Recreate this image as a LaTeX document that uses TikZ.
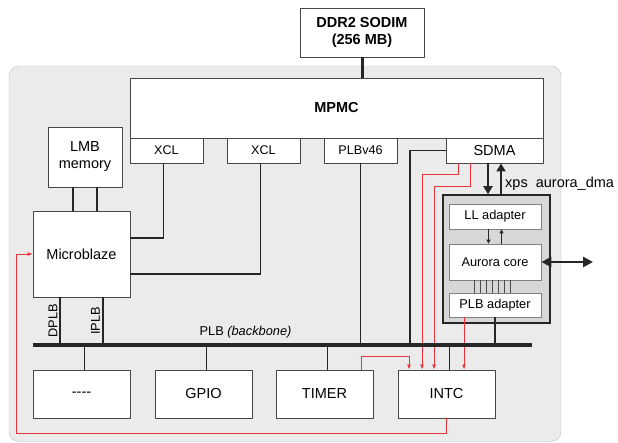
\documentclass[tikz,border=0pt]{standalone}
\usepackage{fontspec}
\setmainfont{Liberation Sans}
\usetikzlibrary{arrows.meta}
\definecolor{panel}{HTML}{EAEBEA}
\definecolor{panelline}{HTML}{BDBEBD}
\definecolor{dmafill}{HTML}{D6D7D6}
\definecolor{irqred}{HTML}{E8353B}
\definecolor{wire}{HTML}{262626}

\begin{document}
\begin{tikzpicture}[x=1pt,y=-1pt,
	box/.style={draw=wire!85,fill=white,line width=0.9pt,inner sep=0pt,align=center,font=\fontsize{14.5}{17}\selectfont},
	port/.style={box,minimum width=73pt,minimum height=25pt,font=\fontsize{12.6}{15}\selectfont},
	sub/.style={draw=black!50,fill=white,line width=0.8pt,inner sep=0pt,minimum width=92pt,font=\fontsize{12.8}{15}\selectfont},
	lbl/.style={inner sep=0pt,font=\fontsize{12.8}{15}\selectfont},
	conn/.style={wire,line width=1.6pt},
	irq/.style={irqred,line width=0.8pt,-{Latex[length=5pt,width=4pt]}}]
	  \useasboundingbox (0,0) rectangle (618,443);
	  \draw [panelline, fill=panel, rounded corners=10pt] (9,66) rectangle (561,441.5);
	  \node [box, minimum width=124pt, minimum height=49pt, font=\fontsize{14.5}{17}\selectfont\bfseries] (ddr) at (362,32.5) {DDR2 SODIM\\(256 MB)};
	  \node [box, minimum width=413pt, minimum height=60pt, font=\fontsize{14.5}{17}\selectfont\bfseries] (mpmc) at (336.5,108) {MPMC};
	  \node [port] (xcla) at (166.5,150.5) {XCL};
	  \node [port] (xclb) at (263.5,150.5) {XCL};
	  \node [port] (plbv) at (360.5,150.5) {PLBv46};
	  \node [port, minimum width=97pt, font=\fontsize{14.5}{17}\selectfont] (sdma) at (494.5,150.5) {SDMA};
	  \node [box, minimum width=74pt, minimum height=60pt] (lmb) at (85,157) {LMB\\memory};
	  \node [box, minimum width=97pt, minimum height=86pt] (mb) at (81.5,254) {Microblaze};
	  \node [box, minimum width=97pt, minimum height=48pt] (dots) at (81.5,394) {{-}{-}{-}{-}};
	  \node [box, minimum width=97pt, minimum height=48pt] (gpio) at (203.5,394) {GPIO};
	  \node [box, minimum width=97pt, minimum height=48pt] (timer) at (324.5,394) {TIMER};
	  \node [box, minimum width=97pt, minimum height=48pt] (intc) at (446.5,394) {INTC};
	  \node [draw=wire, fill=dmafill, line width=1.5pt, minimum width=107pt, minimum height=128pt] (dma) at (496.5,259) {};
	  \node [sub, minimum height=25pt] (ll) at (495,216.5) {LL adapter};
	  \node [sub, minimum height=36pt] (core) at (495,262) {Aurora core};
	  \node [sub, minimum height=24pt] (plbad) at (495,305) {PLB adapter};
	  \node [lbl, anchor=west, font=\fontsize{14.5}{17}\selectfont] (dmalabel) at (505,184) {xps~~aurora\_dma};
	  \node [lbl, rotate=90] (dplb) at (53,321) {DPLB};
	  \node [lbl, rotate=90] (iplb) at (95.5,321) {IPLB};
	  \node [lbl] (buslabel) at (245.5,332) {PLB \textit{(backbone)}};
	  \coordinate (busL) at (33,345);
	  \coordinate (busR) at (532,345);
	  \coordinate (sdmadrop) at (410,345);
	  \coordinate (link) at (593,262);
	  \draw [irq] ([xshift=-36pt]sdma.south) -- ++(0,11) -| ([xshift=-24.5pt]intc.north);
	  \draw [irq] ([xshift=-24pt]sdma.south) -- ++(0,23) -| ([xshift=-12.5pt]intc.north);
	  \draw [irq] ([xshift=-31pt]plbad.south) -- ([xshift=-31pt]plbad.south |- intc.north);
	  \draw [irq] ([xshift=36.5pt]timer.north) -- ++(0,-13) -| ([xshift=-37.5pt]intc.north);
	  \draw [irq] (intc.south) -- ++(0,15) -| ([xshift=-16pt]mb.west) -- (mb.west);
	  \draw [wire, line width=3pt] (ddr.south) -- (ddr.south |- mpmc.north);
	  \draw [wire, line width=3.5pt] (busL) -- (busR);
	  \draw [conn] ([xshift=-12pt]lmb.south) -- ([xshift=-12pt]lmb.south |- mb.north);
	  \draw [conn] ([xshift=12pt]lmb.south) -- ([xshift=12pt]lmb.south |- mb.north);
	  \draw [conn] ([xshift=-3pt]xcla.south) |- ([yshift=16pt]mb.east);
	  \draw [conn] ([xshift=-3pt]xclb.south) |- ([yshift=-20pt]mb.east);
	  \draw [conn] (plbv.south) -- (plbv.south |- busL);
	  \draw [conn] (sdma.west) -| (sdmadrop);
	  \draw [conn] ([xshift=-21.5pt]mb.south) -- ([xshift=-21.5pt]mb.south |- busL);
	  \draw [conn] ([xshift=21.5pt]mb.south) -- ([xshift=21.5pt]mb.south |- busL);
	  \foreach \n in {dots,gpio,timer,intc}
	    \draw [conn] ([xshift=3pt]\n.north) -- ([xshift=3pt]\n.north |- busL);
	  \draw [conn] (plbad.south) -- (plbad.south |- busR);
	  \draw [wire, line width=2pt, -{Triangle[length=8pt,width=9pt]}] ([xshift=-6.5pt]sdma.south) -- ([xshift=-6.5pt]sdma.south |- dma.north);
	  \draw [wire, line width=2pt, -{Triangle[length=8pt,width=9pt]}] ([xshift=6.5pt]sdma.south |- dma.north) -- ([xshift=6.5pt]sdma.south);
	  \draw [wire, line width=1pt, -{Triangle[length=4pt,width=4pt]}] ([xshift=-6.5pt]ll.south) -- ([xshift=-6.5pt]ll.south |- core.north);
	  \draw [wire, line width=1pt, -{Triangle[length=4pt,width=4pt]}] ([xshift=6.5pt]ll.south |- core.north) -- ([xshift=6.5pt]ll.south);
	  \draw [wire, line width=2.5pt, {Triangle[length=10pt,width=10pt]}-{Triangle[length=10pt,width=10pt]}] (core.east) -- (link);
	  \foreach \i in {-3,...,3}
	    \draw [black!70, line width=0.7pt] ([xshift=\i*6pt-3pt]core.south) -- ([xshift=\i*6pt-3pt]plbad.north);
	 \end{tikzpicture}
\end{document}
